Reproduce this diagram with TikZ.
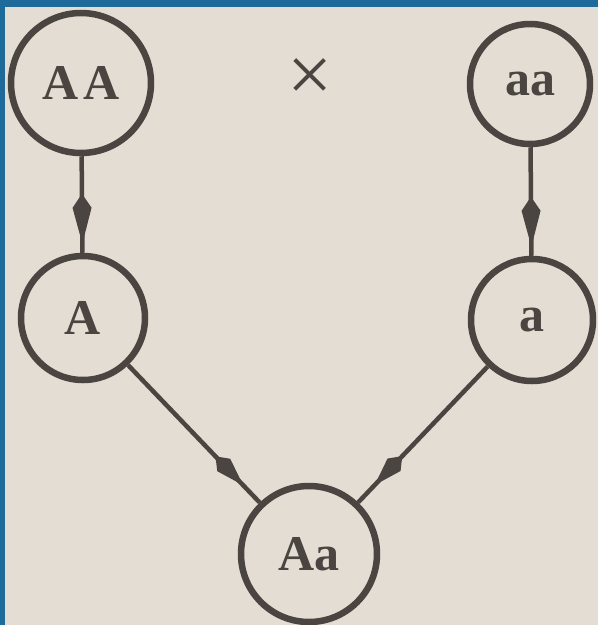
\documentclass[tikz,border=0pt]{standalone}
\usepackage{fontspec}
\setmainfont{Liberation Serif}
\usetikzlibrary{arrows.meta,decorations.markings}
\definecolor{bgpaper}{HTML}{E3DDD4}
\definecolor{ink}{HTML}{4A4540}
\definecolor{frameblue}{HTML}{1E6A9A}
\tikzset{
  gene/.style={circle, draw=ink, line width=6.5pt, fill=none, text=ink,
    inner sep=0pt, font=\fontsize{50}{54}\selectfont\bfseries},
  conn/.style={draw=ink, line width=4.5pt},
  vmark/.style={postaction={decorate}, decoration={markings,
    mark=at position -9pt with {\arrow{Kite[length=50pt,width=19pt,inset=14pt]}}}},
  dmark/.style={postaction={decorate}, decoration={markings,
    mark=at position -24pt with {\arrow{Kite[length=40pt,width=18pt,inset=12pt]}}}},
}
\begin{document}
\begin{tikzpicture}[x=1pt,y=-1pt]
\fill[bgpaper] (0,0) rectangle (598,625);
\useasboundingbox (0,0) rectangle (598,625);
\fill[frameblue] (0,0) rectangle (598,7);
\fill[frameblue] (0,0) rectangle (5,625);
\node[gene, minimum size=140pt] (AA) at (81,83) {A\kern5pt A};
\node[gene, minimum size=120pt] (aa) at (530,84) {aa};
\node[gene, minimum size=124pt] (A) at (83,318) {A};
\node[gene, minimum size=122pt] (a) at (532,320) {a};
\node[gene, minimum size=136pt] (Aa) at (309,554) {Aa};
\node[text=ink, font=\fontsize{80}{80}\selectfont] (x) at (310,80) {×};
\draw[conn, vmark] (AA) -- (A);
\draw[conn, vmark] (aa) -- (a);
\draw[conn, dmark] (A) -- (Aa);
\draw[conn, dmark] (a) -- (Aa);
\end{tikzpicture}
\end{document}
